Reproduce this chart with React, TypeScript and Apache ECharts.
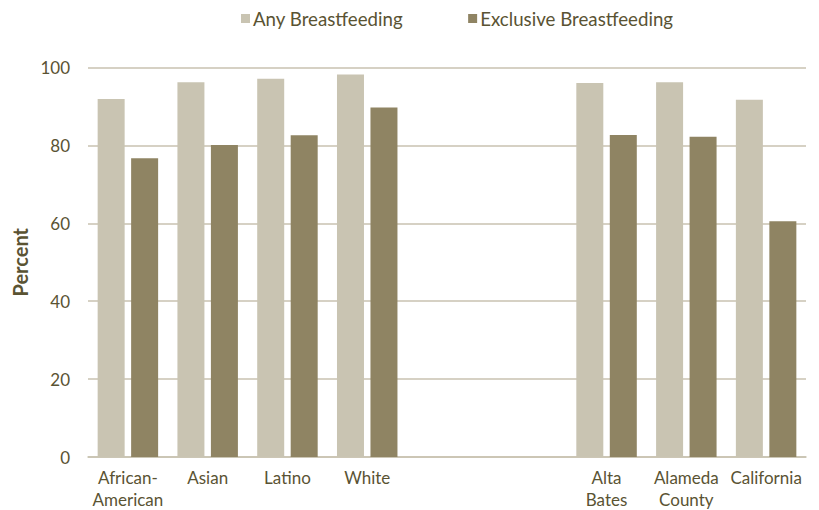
import React, { useEffect, useRef } from "react";
import * as echarts from "echarts";

const categories = ["African-\nAmerican", "Asian", "Latino", "White", "", "", "Alta\nBates", "Alameda\nCounty", "California"];
const anyBreastfeeding = [91.9, 96.2, 97.1, 98.2, null, null, 96.0, 96.2, 91.7];
const exclusiveBreastfeeding = [76.7, 80.1, 82.6, 89.7, null, null, 82.7, 82.2, 60.5];
const seriesNames = ["Any Breastfeeding", "Exclusive Breastfeeding"];

const TEXT = "#5a5333";
const FONT = "Lato";

export default function App() {
  const ref = useRef<HTMLDivElement>(null);
  useEffect(() => {
    const chart = echarts.init(ref.current!, null, { renderer: "svg" });
    chart.setOption({
      animation: false,
      textStyle: { fontFamily: FONT, color: TEXT },
      legend: {
        top: 9,
        left: 241,
        padding: 0,
        itemWidth: 9,
        itemHeight: 9,
        itemGap: 65,
        icon: "rect",
        textStyle: { fontFamily: FONT, fontSize: 18.7, color: TEXT, padding: [0, 0, 0, -2] },
        data: seriesNames,
      },
      grid: { left: 88, right: 13, top: 67.5, bottom: 51 },
      xAxis: {
        type: "category",
        data: categories,
        axisLine: { show: true, lineStyle: { color: "#c8c2b0", width: 1.5 } },
        axisTick: { show: false },
        axisLabel: { fontFamily: FONT, fontSize: 17, color: TEXT, lineHeight: 22, margin: 9, interval: 0 },
      },
      yAxis: {
        type: "value",
        min: 0,
        max: 100,
        interval: 20,
        name: "Percent",
        nameLocation: "middle",
        nameGap: 58,
        nameTextStyle: { fontFamily: FONT, fontSize: 20, fontWeight: "bold", color: TEXT },
        axisLine: { show: false },
        axisTick: { show: false },
        axisLabel: { fontFamily: FONT, fontSize: 17, color: TEXT, margin: 18 },
        splitLine: { lineStyle: { color: "#c8c2b0", width: 1.5 } },
      },
      series: [
        {
          name: seriesNames[0],
          type: "bar",
          data: anyBreastfeeding,
          itemStyle: { color: "#c9c4b2" },
          barWidth: 27,
          barGap: "24%",
        },
        {
          name: seriesNames[1],
          type: "bar",
          data: exclusiveBreastfeeding,
          itemStyle: { color: "#8f8463" },
          barWidth: 27,
          barGap: "24%",
        },
      ],
    });
    return () => chart.dispose();
  }, []);
  return <div ref={ref} style={{ width: 819, height: 510, position: "absolute", left: 0, top: 0 }} />;
}
